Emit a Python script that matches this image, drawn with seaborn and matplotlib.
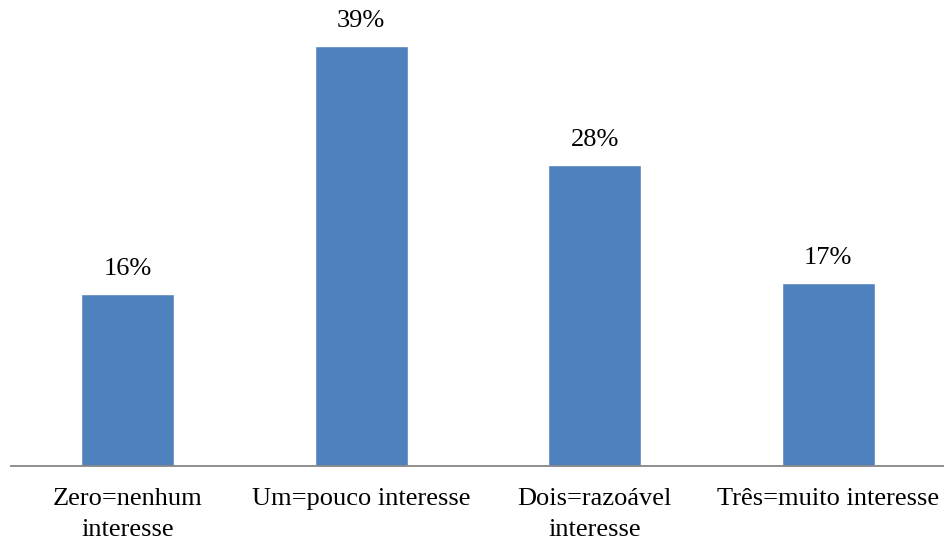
import matplotlib
matplotlib.use("Agg")
import matplotlib.pyplot as plt
import seaborn as sns
import pandas as pd

categories = ["Zero=nenhum\ninteresse", "Um=pouco interesse", "Dois=razoável\ninteresse", "Três=muito interesse"]
percentages = [16, 39, 28, 17]

sns.set_theme(style="white")
plt.rcParams["font.family"] = ["Liberation Serif", "DejaVu Serif"]

df = pd.DataFrame({"categoria": categories, "pct": percentages})

fig = plt.figure(figsize=(9.45, 5.43), dpi=100)
ax = fig.add_axes([11 / 945, 1 - 466 / 543, 934 / 945, 466 / 543])

sns.barplot(data=df, x="categoria", y="pct", color="#4F81BD", width=0.4,
            saturation=1, ax=ax)

ax.set_ylim(0, 466 / 10.76)
ax.set_xlim(-0.5, 3.5)
ax.set_xlabel("")
ax.set_ylabel("")
ax.set_yticks([])
for side in ["top", "right", "left"]:
    ax.spines[side].set_visible(False)
ax.spines["bottom"].set_color("#868686")
ax.spines["bottom"].set_linewidth(1.3)
ax.tick_params(axis="x", length=0, pad=16, labelsize=19, labelcolor="black")
for lbl in ax.get_xticklabels():
    lbl.set_linespacing(1.5)

for i, v in enumerate(percentages):
    ax.annotate(f"{v}%", (i, v), xytext=(0, 10), textcoords="offset points",
                ha="center", va="bottom", fontsize=19, color="black")

fig.savefig("out.png", dpi=100)
